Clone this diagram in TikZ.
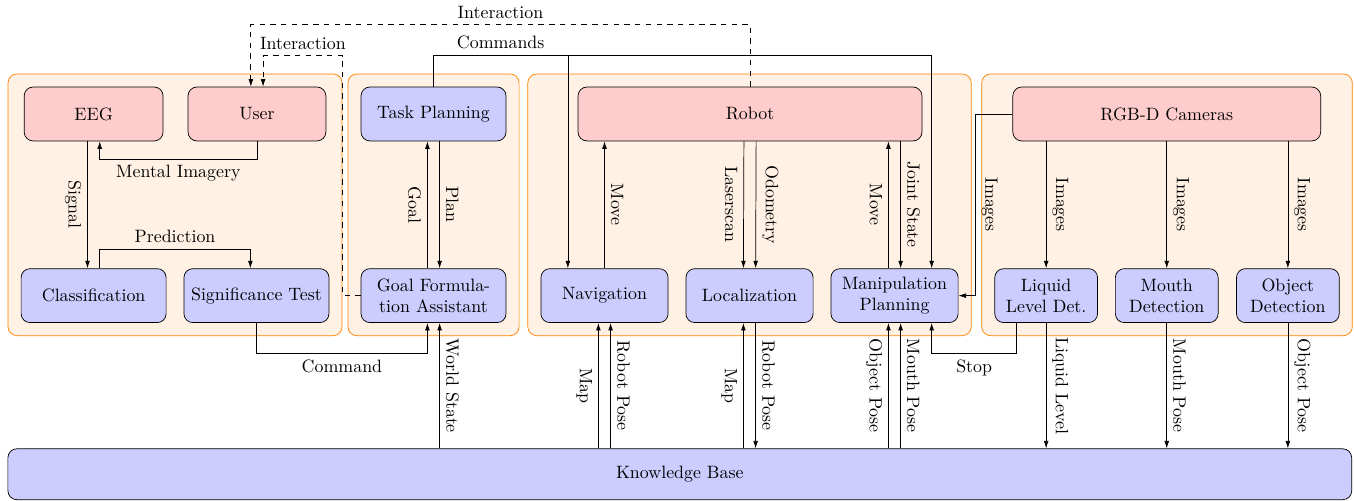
\documentclass[tikz,border=0pt]{standalone}
\usepackage{tikz}
\usetikzlibrary{fit}
\usetikzlibrary{backgrounds}
\usetikzlibrary{arrows.meta}
\tikzset{block/.style = {draw, rounded corners=5pt, minimum height=1.06cm,
                         align=center}}
\tikzset{ext/.style = {block, fill=red!20}}
\tikzset{mod/.style = {block, fill=blue!20}}
\tikzset{grp/.style = {draw=orange, fill=orange!10, rounded corners=5pt,
                       inner sep=0.25cm}}
\tikzset{vl/.style = {rotate=-90, anchor=north}}
\tikzset{vr/.style = {rotate=-90, anchor=south}}

\begin{document}
\begin{tikzpicture}[>={Latex[length=4.2pt, width=2.7pt]}]
  \useasboundingbox (0,0) rectangle (26.61,-9.845);

  % top row
  \node[ext, minimum width=2.73cm] (eeg) at (1.84,-2.24) {EEG};
  \node[ext, minimum width=2.71cm] (user) at (5.05,-2.24) {User};
  \node[mod, minimum width=2.85cm] (tp) at (8.52,-2.24) {Task Planning};
  \node[ext, minimum width=6.76cm] (robot) at (14.74,-2.24) {Robot};
  \node[ext, minimum width=6.05cm] (cams) at (22.93,-2.24) {RGB-D Cameras};

  % bottom row
  \node[mod, minimum width=2.85cm] (cls) at (1.84,-5.81) {Classification};
  \node[mod, minimum width=2.85cm] (sig) at (5.04,-5.81) {Significance Test};
  \node[mod, minimum width=2.85cm] (gf) at (8.52,-5.81) {Goal Formula-\\tion Assistant};
  \node[mod, minimum width=2.5cm] (nav) at (11.88,-5.81) {Navigation};
  \node[mod, minimum width=2.5cm] (loc) at (14.73,-5.81) {Localization};
  \node[mod, minimum width=2.5cm] (man) at (17.58,-5.81) {Manipulation\\Planning};
  \node[mod, minimum width=2.02cm] (lld) at (20.56,-5.81) {Liquid\\Level Det.};
  \node[mod, minimum width=2.02cm] (md) at (22.93,-5.81) {Mouth\\Detection};
  \node[mod, minimum width=2.02cm] (od) at (25.31,-5.81) {Object\\Detection};

  \node[mod, minimum width=26.41cm, minimum height=1cm] (kb) at (13.36,-9.32) {Knowledge Base};

  \begin{scope}[on background layer]
    \node[grp, fit=(eeg)(user)(cls)(sig)] (bci) {};
    \node[grp, fit=(tp)(gf)] (planner) {};
    \node[grp, fit=(robot)(nav)(loc)(man)] (robotgrp) {};
    \node[grp, fit=(cams)(lld)(md)(od)] (vision) {};
  \end{scope}

  % bci
  \draw[->] ([xshift=-0.12cm]eeg.south) -- node[vl] {Signal} ([xshift=-0.12cm]cls.north);
  \draw[->] (user.south) -- ++(0,-0.35) -| node[pos=0.25, below] {Mental Imagery} ([xshift=0.12cm]eeg.south);
  \draw[->] ([xshift=0.12cm]cls.north) -- ++(0,0.38) -| node[pos=0.25, above] {Prediction} ([xshift=-0.12cm]sig.north);
  \draw[->] (sig.south) -- ++(0,-0.6) -| node[pos=0.25, below] {Command} ([xshift=-0.12cm]gf.south);

  % planner
  \draw[->] ([xshift=-0.12cm]gf.north) -- node[vl] {Goal} ([xshift=-0.12cm]tp.south);
  \draw[->] ([xshift=0.12cm]tp.south) -- node[vr] {Plan} ([xshift=0.12cm]gf.north);
  \draw[->] ([xshift=0.12cm]gf.south |- kb.north) -- node[vr] {World State} ([xshift=0.12cm]gf.south);
  \draw[->] (tp.north) -- ++(0,0.61) -| node[pos=0.25, above] {Commands} ([xshift=-0.72cm]nav.north);
  \draw[->] (tp.north) -- ++(0,0.61) -| ([xshift=0.73cm]man.north);

  % interaction
  \draw[dashed, ->] (robot.north) -- ++(0,1.22) -| node[pos=0.25, above] {Interaction} ([xshift=-0.12cm]user.north);
  \draw[dashed, ->] (gf.west) -- ++(-0.35,0) |- node[pos=0.75, above] {Interaction} ([xshift=0.12cm, yshift=0.61cm]user.north) -- ([xshift=0.12cm]user.north);

  % robot
  \draw[->] (nav.north) -- node[vr] {Move} (nav.north |- robot.south);
  \draw[->] ([xshift=-0.12cm]robot.south) -- node[vl] {Laserscan} ([xshift=-0.12cm]loc.north);
  \draw[->] ([xshift=0.12cm]robot.south) -- node[vr] {Odometry} ([xshift=0.12cm]loc.north);
  \draw[->] ([xshift=-0.12cm]man.north) -- node[vl] {Move} ([xshift=-0.12cm]man.north |- robot.south);
  \draw[->] ([xshift=0.12cm]man.north |- robot.south) -- node[vr] {Joint State} ([xshift=0.12cm]man.north);

  % knowledge base
  \draw[->] ([xshift=-0.12cm]nav.south |- kb.north) -- node[vl] {Map} ([xshift=-0.12cm]nav.south);
  \draw[->] ([xshift=0.12cm]nav.south |- kb.north) -- node[vr] {Robot Pose} ([xshift=0.12cm]nav.south);
  \draw[->] ([xshift=-0.12cm]loc.south |- kb.north) -- node[vl] {Map} ([xshift=-0.12cm]loc.south);
  \draw[->] ([xshift=0.12cm]loc.south) -- node[vr] {Robot Pose} ([xshift=0.12cm]loc.south |- kb.north);
  \draw[->] ([xshift=-0.12cm]man.south |- kb.north) -- node[vl] {Object Pose} ([xshift=-0.12cm]man.south);
  \draw[->] ([xshift=0.12cm]man.south |- kb.north) -- node[vr] {Mouth Pose} ([xshift=0.12cm]man.south);
  \draw[->] ([xshift=-0.58cm]lld.south) -- ++(0,-0.6) -| node[pos=0.25, below] {Stop} ([xshift=0.73cm]man.south);
  \draw[->] (lld.south) -- node[vr] {Liquid Level} (lld.south |- kb.north);
  \draw[->] (md.south) -- node[vr] {Mouth Pose} (md.south |- kb.north);
  \draw[->] (od.south) -- node[vr] {Object Pose} (od.south |- kb.north);

  % cameras
  \draw[->] (lld.north |- cams.south) -- node[vr] {Images} (lld.north);
  \draw[->] (md.north |- cams.south) -- node[vr] {Images} (md.north);
  \draw[->] (od.north |- cams.south) -- node[vr] {Images} (od.north);
  \draw[->] (cams.west) -- ++(-0.73,0) |- node[pos=0.25, vr] {Images} (man.east);
\end{tikzpicture}
\end{document}
